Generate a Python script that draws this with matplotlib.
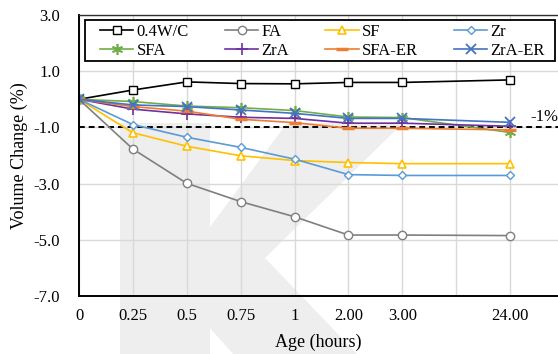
import matplotlib
matplotlib.use('Agg')
import matplotlib.pyplot as plt
from matplotlib.patches import Polygon, Rectangle
import numpy as np

plt.rcParams['font.family'] = ['Liberation Serif', 'DejaVu Serif']

# category slots on the x axis (one empty slot between 3.00 and 24.00)
axis_slots = ['0', '0.25', '0.5', '0.75', '1', '2.00', '3.00', '', '24.00']
ages = ['0', '0.25', '0.5', '0.75', '1', '2.00', '3.00', '24.00']

wc04 = [0.0, 0.33, 0.62, 0.56, 0.55, 0.60, 0.60, 0.69]
fa = [0.0, -1.77, -2.99, -3.64, -4.18, -4.83, -4.83, -4.85]
sf = [0.0, -1.19, -1.67, -2.01, -2.18, -2.25, -2.29, -2.29]
zr = [0.0, -0.90, -1.35, -1.71, -2.13, -2.68, -2.71, -2.71]
sfa = [0.0, -0.08, -0.24, -0.30, -0.40, -0.63, -0.65, -1.18]
zra = [0.0, -0.35, -0.52, -0.64, -0.68, -0.85, -0.85, -0.96]
sfa_er = [0.0, -0.26, -0.42, -0.71, -0.83, -1.03, -1.03, -1.09]
zra_er = [0.0, -0.20, -0.26, -0.38, -0.50, -0.68, -0.68, -0.82]

limit_value = -1.0

W, H = 558, 354
fig = plt.figure(figsize=(W / 100, H / 100), dpi=100)

# faint "K" watermark behind the chart (figure pixel coords)
k_pts = [(120, 123), (210, 123), (210, 227), (287, 123), (403, 123), (265, 258),
         (357, 354), (233, 354), (210, 328), (210, 354), (120, 354)]
fig.add_artist(Polygon([(x / W, 1 - y / H) for x, y in k_pts], closed=True,
                       transform=fig.transFigure, facecolor='#eeeeee',
                       edgecolor='none', zorder=-5))

ax_left, ax_top, ax_bottom = 79, 15, 296
ax_w, ax_h = W - ax_left, ax_bottom - ax_top
ax = fig.add_axes([ax_left / W, 1 - ax_bottom / H, ax_w / W, ax_h / H])
ax.set_facecolor('none')

x = [axis_slots.index(a) for a in ages]

series = [
    ('0.4W/C', wc04, '#000000', 's', 5.5, 'white', 1.0),
    ('FA', fa, '#7f7f7f', 'o', 6, 'white', 1.0),
    ('SF', sf, '#ffc000', '^', 6, 'white', 1.2),
    ('Zr', zr, '#5b9bd5', 'D', 4.5, 'white', 1.0),
    ('SFA', sfa, '#70ad47', (6, 2, 0), 8, None, 1.2),
    ('ZrA', zra, '#7030a0', '+', 8, None, 1.2),
    ('SFA-ER', sfa_er, '#ed7d31', '_', 8, None, 2.5),
    ('ZrA-ER', zra_er, '#4472c4', 'x', 6.5, None, 1.3),
]

handles = {}
for name, vals, color, marker, ms, mfc, mew in series:
    kw = dict(color=color, lw=1.2, marker=marker, markersize=ms,
              markeredgecolor=color, markeredgewidth=mew, label=name)
    if mfc is not None:
        kw['markerfacecolor'] = mfc
    line, = ax.plot(x, vals, **kw)
    handles[name] = line

ax.axhline(limit_value, color='black', lw=1.4, linestyle=(0, (3, 2)), zorder=1)
ax.text(8.37, -0.62, '-1%', fontsize=12, ha='left', va='center')

ax.set_xlim(0, 8.89)
ax.set_ylim(-7, 3)
ax.set_xticks(range(len(axis_slots)))
ax.set_xticklabels(axis_slots)
ax.set_yticks(np.arange(-7, 3.1, 2))
ax.set_yticklabels([f'{v:.1f}' for v in np.arange(-7, 3.1, 2)])
ax.tick_params(axis='both', length=0, labelsize=12)
ax.tick_params(axis='x', pad=8.5)
ax.tick_params(axis='y', pad=13.5)
ax.grid(True, color='#d9d9d9', lw=1.0)
ax.set_axisbelow(True)

for side in ['left', 'bottom']:
    ax.spines[side].set_color('black')
    ax.spines[side].set_linewidth(1.4)
ax.spines['top'].set_color('#303030')
ax.spines['top'].set_linewidth(1.0)
ax.spines['right'].set_visible(False)

ax.set_xlabel('Age (hours)', fontsize=13, labelpad=7)
ax.set_ylabel('Volume Change (%)', fontsize=13, labelpad=4)


def to_axes(px, py):
    return (px - ax_left) / ax_w, (ax_bottom - py) / ax_h


# legend frame (drawn separately so the entries can be spread like the original)
fx0, fy0 = to_axes(85, 61)
fx1, fy1 = to_axes(555, 20)
ax.add_patch(Rectangle((fx0, fy0), fx1 - fx0, fy1 - fy0, transform=ax.transAxes,
                       facecolor='white', edgecolor='black', lw=1.3,
                       clip_on=False, zorder=4))

order = ['0.4W/C', 'SFA', 'FA', 'ZrA', 'SF', 'SFA-ER', 'Zr', 'ZrA-ER']
lx0, ly0 = to_axes(100, 61)
lx1, ly1 = to_axes(545, 22)
leg = ax.legend([handles[n] for n in order], order, ncol=4, loc='center left',
                bbox_to_anchor=(lx0, ly0, lx1 - lx0, ly1 - ly0),
                mode='expand', borderaxespad=0, fontsize=12, frameon=False,
                handlelength=2.0, handletextpad=0.2, labelspacing=0.15,
                borderpad=0.0, columnspacing=1.0)
leg.set_zorder(5)

fig.savefig('out.png', dpi=100)
